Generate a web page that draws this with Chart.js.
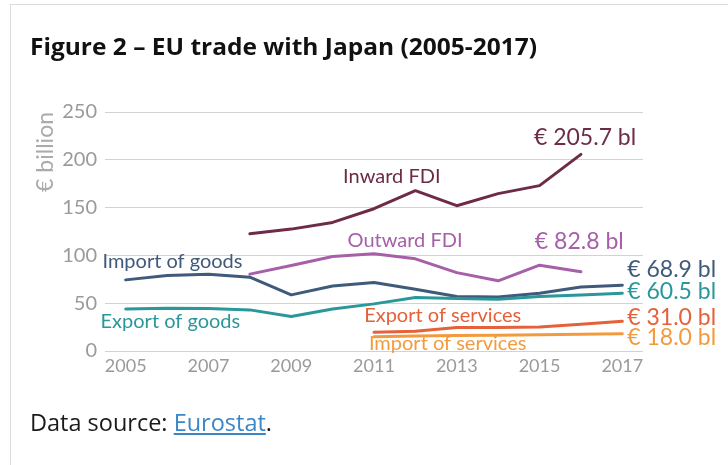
<!DOCTYPE html>
<html>
<head>
<meta charset="utf-8">
<script src="https://cdn.jsdelivr.net/npm/chart.js@4.4.1/dist/chart.umd.min.js"></script>
<style>
  html, body { margin: 0; padding: 0; background: #fff; width: 728px; height: 465px; overflow: hidden; }
  #frame { position: absolute; left: 10px; top: 4px; width: 730px; height: 480px; border-left: 1px solid #dcdcdc; border-top: 1px solid #dcdcdc; }
  #title { position: absolute; left: 30px; top: 34px; font-family: "Open Sans", sans-serif; font-weight: 700; font-size: 24px; line-height: 24px; color: #111; white-space: nowrap; transform-origin: 0 0; }
  #src { position: absolute; left: 30px; top: 410px; font-family: "Open Sans", sans-serif; font-weight: 400; font-size: 24px; line-height: 24px; color: #1a1a1a; white-space: nowrap; transform-origin: 0 0; }
  #src a { color: #3a87c7; text-decoration: underline; }
  #c { position: absolute; left: 0; top: 0; }
</style>
</head>
<body>
<div id="frame"></div>
<canvas id="c" width="728" height="465"></canvas>
<div id="title">Figure 2 – EU trade with Japan (2005-2017)</div>
<div id="src">Data source: <a href="#">Eurostat</a>.</div>
<script>
// ---- data (EUR billion) ----
const years = ['2005','2006','2007','2008','2009','2010','2011','2012','2013','2014','2015','2016','2017'];
const shownYearTicks = ['2005','2007','2009','2011','2013','2015','2017'];
const inwardFDI      = [null, null, null, 122.6, 127.5, 134.5, 148.8, 167.7, 152.0, 164.6, 173.0, 205.7, null];
const outwardFDI     = [null, null, null, 80.4, 89.4, 98.9, 101.7, 96.4, 82.0, 73.4, 89.8, 82.8, null];
const importGoods    = [74.4, 79.0, 80.4, 77.2, 58.7, 68.0, 71.6, 64.6, 57.0, 56.6, 60.5, 67.0, 68.9];
const exportGoods    = [44.0, 44.7, 44.4, 43.0, 36.0, 44.0, 49.3, 55.9, 54.9, 54.2, 57.0, 58.7, 60.5];
const exportServices = [null, null, null, null, null, null, 19.6, 20.6, 24.5, 24.5, 25.0, 28.0, 31.0];
const importServices = [null, null, null, null, null, null, 15.0, 15.7, 16.2, 16.6, 16.9, 17.4, 18.0];
const yTicks = [0, 50, 100, 150, 200, 250];

const C = {
  inward: '#6e2b47', outward: '#a65fa8', impG: '#3f5a7a', expG: '#2a979a',
  expS: '#e5613a', impS: '#f29b3e'
};

// text annotations anchored in data space: [text, category index, value, align, size, color]
const annotations = [
  ['Inward FDI',         6.43, 182.4, 'center', 20, C.inward],
  ['€ 205.7 bl',        11.10, 223.0, 'center', 23, C.inward],
  ['Outward FDI',        6.75, 115.3, 'center', 20, C.outward],
  ['€ 82.8 bl',         10.96, 114.3, 'center', 23, C.outward],
  ['Import of goods',    1.13,  93.3, 'center', 20, C.impG],
  ['Export of goods',    1.08,  30.4, 'center', 20, C.expG],
  ['Export of services', 7.66,  36.7, 'center', 20, C.expS],
  ['Import of services', 7.78,   7.3, 'center', 20, C.impS],
  ['€ 68.9 bl',         12.12,  84.9, 'left',   23, C.impG],
  ['€ 60.5 bl',         12.12,  61.8, 'left',   23, C.expG],
  ['€ 31.0 bl',         12.12,  34.6, 'left',   23, C.expS],
  ['€ 18.0 bl',         12.12,  13.6, 'left',   23, C.impS]
];

const annotationPlugin = {
  id: 'labels',
  afterDatasetsDraw(chart) {
    const ctx = chart.ctx, xs = chart.scales.x, ys = chart.scales.y;
    ctx.save();
    ctx.textBaseline = 'middle';
    annotations.forEach(([t, i, v, al, sz, col]) => {
      ctx.font = sz + 'px Lato';
      ctx.fillStyle = col;
      ctx.textAlign = al;
      ctx.fillText(t, xs.getPixelForValue(i), ys.getPixelForValue(v));
    });
    ctx.restore();
  }
};

function ds(label, data, color) {
  return { label, data, borderColor: color, backgroundColor: color, borderWidth: 3,
           pointRadius: 0, pointHoverRadius: 0, tension: 0, spanGaps: false,
           borderCapStyle: 'round', borderJoinStyle: 'round', fill: false };
}

new Chart(document.getElementById('c'), {
  type: 'line',
  data: {
    labels: years,
    datasets: [
      ds('Import of services', importServices, C.impS),
      ds('Export of services', exportServices, C.expS),
      ds('Export of goods', exportGoods, C.expG),
      ds('Import of goods', importGoods, C.impG),
      ds('Outward FDI', outwardFDI, C.outward),
      ds('Inward FDI', inwardFDI, C.inward)
    ]
  },
  options: {
    responsive: false,
    animation: false,
    events: [],
    layout: { padding: { left: 0, top: 112, right: 85, bottom: 84 } },
    plugins: { legend: { display: false }, tooltip: { enabled: false } },
    scales: {
      x: {
        type: 'category',
        offset: true,
        grid: { display: false },
        border: { display: false },
        afterFit(s) { s.height = 30; },
        ticks: {
          autoSkip: false, maxRotation: 0, padding: -4,
          color: '#9a9a9a', font: { family: 'Lato', size: 18 },
          callback(v) { const l = years[v]; return shownYearTicks.includes(l) ? l : ''; }
        }
      },
      y: {
        min: 0, max: 250,
        afterFit(s) { s.width = 105; },
        afterBuildTicks(s) { s.ticks = yTicks.map(v => ({ value: v })); },
        grid: { color: '#d2d2d2', lineWidth: 1, drawTicks: false },
        border: { display: false },
        ticks: { padding: 8, color: '#9a9a9a', font: { family: 'Lato', size: 20 } },
        title: {
          display: true, text: '€ billion', align: 'end',
          color: '#ababab', font: { family: 'Lato', size: 23 },
          padding: { top: 32, bottom: 0 }
        }
      }
    }
  },
  plugins: [annotationPlugin]
});

function fit(id, w) {
  const el = document.getElementById(id);
  const r = el.getBoundingClientRect().width;
  if (r > 0) el.style.transform = 'scaleX(' + (w / r) + ')';
}
(document.fonts ? document.fonts.ready : Promise.resolve()).then(() => {
  fit('title', 507);
  fit('src', 242);
});
</script>
</body>
</html>
